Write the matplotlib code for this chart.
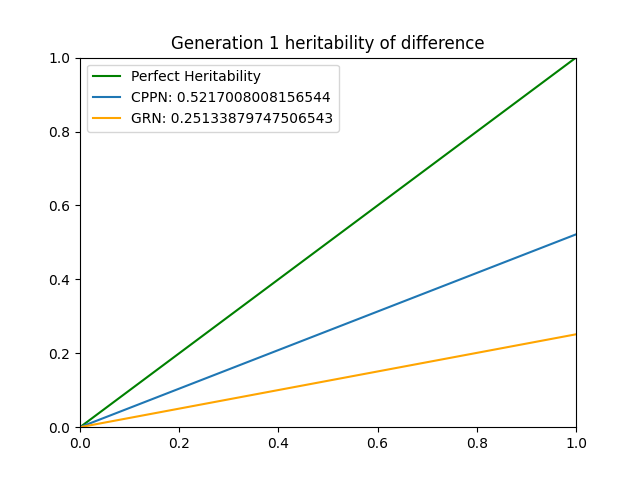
import matplotlib
matplotlib.use('Agg')
import matplotlib.pyplot as plt

# Endpoints of each line
x_vals = [0.0, 1.0]
perfect_vals = [0.0, 1.0]
cppn_vals = [0.0, 0.5217008008156544]
grn_vals = [0.0, 0.25133879747506543]

cppn_label = 'CPPN: 0.5217008008156544'
grn_label = 'GRN: 0.25133879747506543'

fig, ax = plt.subplots(figsize=(6.4, 4.8), dpi=100)

ax.plot(x_vals, perfect_vals, color='green', label='Perfect Heritability')
ax.plot(x_vals, cppn_vals, color='#1f77b4', label=cppn_label)
ax.plot(x_vals, grn_vals, color='orange', label=grn_label)

ax.set_xlim(0, 1)
ax.set_ylim(0, 1)
ax.set_title('Generation 1 heritability of difference')
ax.legend(loc='upper left')

plt.savefig('out.png', dpi=100)
